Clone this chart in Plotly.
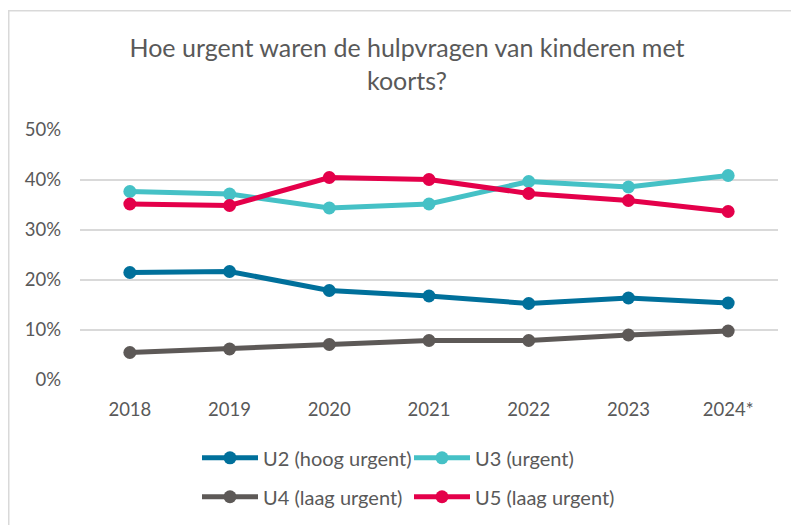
import plotly.graph_objects as go

years = ["2018", "2019", "2020", "2021", "2022", "2023", "2024*"]
u2 = [0.215, 0.217, 0.179, 0.168, 0.153, 0.164, 0.154]
u3 = [0.377, 0.372, 0.344, 0.352, 0.397, 0.386, 0.409]
u4 = [0.055, 0.062, 0.071, 0.079, 0.079, 0.090, 0.098]
u5 = [0.352, 0.349, 0.405, 0.401, 0.373, 0.359, 0.337]

series = [
    ("U2 (hoog urgent)", u2, "#00709B", "legend"),
    ("U3 (urgent)", u3, "#45C1C6", "legend2"),
    ("U4 (laag urgent)", u4, "#5D5957", "legend3"),
    ("U5 (laag urgent)", u5, "#E4004A", "legend4"),
]

FONT = "Lato"
GREY = "#595959"

# plot area in figure pixels
L, R, T, B = 72, 770, 121.5, 372
PW, PH = R - L, B - T

fig = go.Figure()
for name, vals, col, lg in series:
    fig.add_trace(go.Scatter(
        x=years, y=vals, name=name, mode="lines+markers",
        line=dict(color=col, width=5),
        marker=dict(color=col, size=13),
        cliponaxis=False, legend=lg,
    ))

legend_common = dict(
    orientation="h", xanchor="left", yanchor="middle",
    font=dict(size=20, color=GREY, family=FONT),
    itemwidth=56, bgcolor="rgba(0,0,0,0)",
)
col1_x = (189 - L) / PW
col2_x = (401 - L) / PW
row1_y = -(450 - B) / PH
row2_y = -(489 - B) / PH

fig.update_layout(
    width=799, height=525,
    margin=dict(l=L, r=799 - R, t=T, b=525 - B),
    paper_bgcolor="white", plot_bgcolor="white",
    font=dict(family=FONT, color=GREY, size=18),
    title=dict(
        text="Hoe urgent waren de hulpvragen van kinderen met<br>koorts?",
        x=(399 - L) / PW, xanchor="center", xref="paper",
        y=1 - 49 / 525, yanchor="middle",
        font=dict(family=FONT, size=25, color=GREY),
    ),
    xaxis=dict(
        type="category", range=[-0.5, 6.5],
        showgrid=False, zeroline=False, showline=False,
        ticks="", ticklabelstandoff=16,
        tickfont=dict(size=18.5, color=GREY),
    ),
    yaxis=dict(
        range=[0, 0.5], tickvals=[0, 0.1, 0.2, 0.3, 0.4, 0.5],
        tickformat=".0%",
        showgrid=True, gridcolor="#D9D9D9", gridwidth=1.5,
        zeroline=False, showline=False, ticks="",
        ticklabelstandoff=18,
        tickfont=dict(size=18.5, color=GREY),
    ),
    legend=dict(legend_common, x=col1_x, y=row1_y),
    legend2=dict(legend_common, x=col2_x, y=row1_y),
    legend3=dict(legend_common, x=col1_x, y=row2_y),
    legend4=dict(legend_common, x=col2_x, y=row2_y),
    showlegend=True,
    shapes=[dict(
        type="rect", xref="paper", yref="paper",
        x0=(0.75 - L) / PW, x1=(805 - L) / PW,
        y0=-(540 - B) / PH, y1=(B - 2) / PH,
        line=dict(color="#D9D9D9", width=1.5), fillcolor="rgba(0,0,0,0)",
        layer="below",
    )],
)

fig.write_html("out.html")
